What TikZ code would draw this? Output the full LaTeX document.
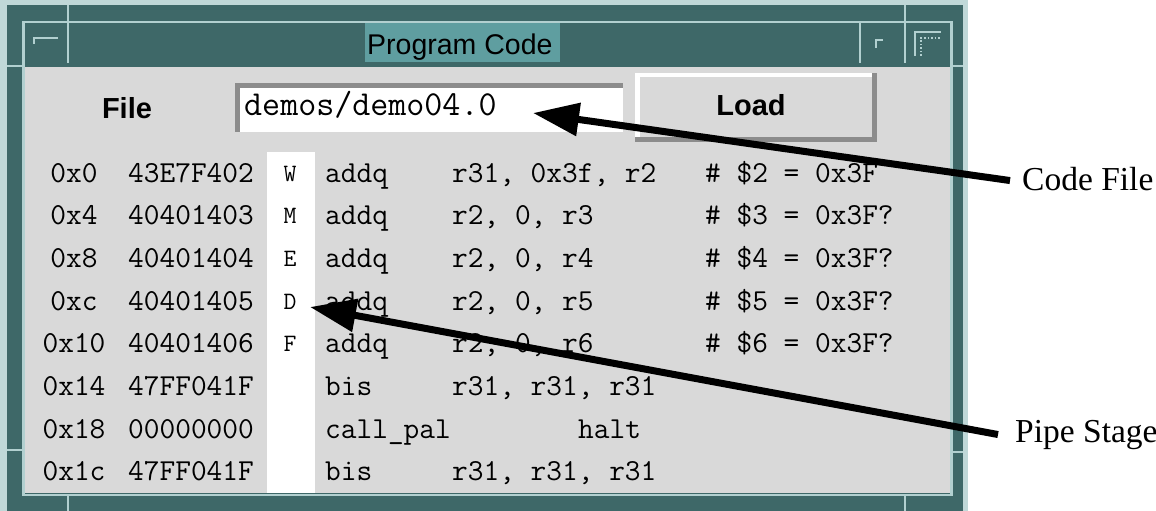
\documentclass[tikz,border=0pt]{standalone}
\usepackage{fontspec}
\usetikzlibrary{arrows.meta}
\newfontfamily\lsans{Liberation Sans}
\newfontfamily\lserif{Liberation Serif}
\definecolor{frameteal}{RGB}{62,104,104}
\definecolor{ltteal}{RGB}{178,208,208}
\definecolor{outerlt}{RGB}{192,216,216}
\definecolor{titlehl}{RGB}{95,158,160}
\definecolor{bodygray}{RGB}{217,217,217}
\definecolor{insetgray}{RGB}{140,140,140}
\begin{document}
\begin{tikzpicture}[x=1pt,y=-1pt,
  ltline/.style={ltteal,line width=2.5pt},
  glyph/.style={ltteal,line width=1.5pt},
  mono/.style={font=\fontsize{30.5}{30.5}\selectfont\ttfamily,inner sep=0pt,anchor=base west},
  addr/.style={font=\fontsize{30.5}{30.5}\selectfont\ttfamily,inner sep=0pt,anchor=base},
  stagelet/.style={font=\fontsize{25}{25}\selectfont\ttfamily,inner sep=0pt,anchor=base},
  boldsans/.style={font=\fontsize{29}{29}\selectfont\lsans\bfseries,inner sep=0pt,anchor=base},
  lbl/.style={font=\fontsize{33.5}{33.5}\selectfont\lserif,inner sep=0pt,anchor=base west},
  arr/.style={line width=7pt,-{Triangle[length=46pt,width=32pt]}}]
\useasboundingbox (0,0) rectangle (1156,511);
\fill[white] (0,0) rectangle (1156,511);
% window frame
\fill[outerlt] (0,0) rectangle (968,511);
\fill[frameteal] (7,5) rectangle (963,511);
\fill[titlehl] (365,23) rectangle (560,62);
\fill[bodygray] (25,67) rectangle (950,493);
\draw[ltline] (23.5,22) -- (23.5,495) -- (951.5,495) -- (951.5,22) -- cycle;
\draw[ltline] (68,5) -- (68,63);
\draw[ltline] (860,22) -- (860,63);
\draw[ltline] (905,5) -- (905,63);
\draw[ltline] (7,66) -- (23,66);
\draw[ltline] (951,66) -- (963,66);
\draw[ltline] (7,450) -- (23,450);
\draw[ltline] (951,452) -- (963,452);
\draw[ltline] (68,495) -- (68,511);
\draw[ltline] (905,495) -- (905,511);
% title bar glyphs
\draw[glyph] (34,44) -- (34,38) -- (58,38);
\draw[glyph] (876,48) -- (876,40) -- (883,40);
\draw[glyph] (915,56) -- (915,32) -- (941,32);
\draw[glyph,dotted] (921,56) -- (921,38) -- (941,38);
\node[font=\fontsize{28.5}{28.5}\selectfont\lsans,inner sep=0pt,anchor=base west] (title) at (367,55) {Program Code};
% file row
\node[boldsans] (filelbl) at (127,118) {File};
\fill[white] (235,83) rectangle (623,132);
\fill[insetgray] (235,83) rectangle (623,88);
\fill[insetgray] (235,83) rectangle (240,132);
\node[font=\fontsize{35}{35}\selectfont\ttfamily,inner sep=0pt,anchor=base west] (demo) at (244,115) {demos/demo04.0};
\fill[insetgray] (635,73) rectangle (877,142);
\fill[white] (635,73) rectangle (872,137);
\fill[bodygray] (640,77) rectangle (872,137);
\node[boldsans] (load) at (751,115) {Load};
% stage column
\fill[white] (267,152) rectangle (315,493);
% rows
\node[addr] (a0) at (74,182) {0x0};
\node[addr] (a1) at (74,224.7) {0x4};
\node[addr] (a2) at (74,267.4) {0x8};
\node[addr] (a3) at (74,310.1) {0xc};
\node[addr] (a4) at (74,352.8) {0x10};
\node[addr] (a5) at (74,395.5) {0x14};
\node[addr] (a6) at (74,438.2) {0x18};
\node[addr] (a7) at (74,480.9) {0x1c};
\node[mono] (h0) at (128,182) {43E7F402};
\node[mono] (h1) at (128,224.7) {40401403};
\node[mono] (h2) at (128,267.4) {40401404};
\node[mono] (h3) at (128,310.1) {40401405};
\node[mono] (h4) at (128,352.8) {40401406};
\node[mono] (h5) at (128,395.5) {47FF041F};
\node[mono] (h6) at (128,438.2) {00000000};
\node[mono] (h7) at (128,480.9) {47FF041F};
\node[stagelet] (s0) at (290,181) {W};
\node[stagelet] (s1) at (290,223.7) {M};
\node[stagelet] (s2) at (290,266.4) {E};
\node[stagelet] (s3) at (290,309.1) {D};
\node[stagelet] (s4) at (290,351.8) {F};
\node[mono] (m0) at (325,182) {addq};
\node[mono] (m1) at (325,224.7) {addq};
\node[mono] (m2) at (325,267.4) {addq};
\node[mono] (m3) at (325,310.1) {addq};
\node[mono] (m4) at (325,352.8) {addq};
\node[mono] (m5) at (325,395.5) {bis};
\node[mono] (m6) at (325,438.2) {call\_pal};
\node[mono] (m7) at (325,480.9) {bis};
\node[mono] (o0) at (452,182) {r31, 0x3f, r2};
\node[mono] (o1) at (452,224.7) {r2, 0, r3};
\node[mono] (o2) at (452,267.4) {r2, 0, r4};
\node[mono] (o3) at (452,310.1) {r2, 0, r5};
\node[mono] (o4) at (452,352.8) {r2, 0, r6};
\node[mono] (o5) at (452,395.5) {r31, r31, r31};
\node[mono] (o6) at (578,438.2) {halt};
\node[mono] (o7) at (452,480.9) {r31, r31, r31};
\node[mono] (c0) at (705,182) {\# \$2 = 0x3F};
\node[mono] (c1) at (705,224.7) {\# \$3 = 0x3F?};
\node[mono] (c2) at (705,267.4) {\# \$4 = 0x3F?};
\node[mono] (c3) at (705,310.1) {\# \$5 = 0x3F?};
\node[mono] (c4) at (705,352.8) {\# \$6 = 0x3F?};
% annotations
\node[lbl] (cf) at (1022,190) {Code File};
\node[lbl] (ps) at (1015,442) {Pipe Stage};
\coordinate (cftip) at (533,113);
\coordinate (pstip) at (310,307);
\draw[arr] ([xshift=-12pt,yshift=-2pt]cf.west) -- (cftip);
\draw[arr] ([xshift=-17pt]ps.west) -- (pstip);
\end{tikzpicture}
\end{document}
